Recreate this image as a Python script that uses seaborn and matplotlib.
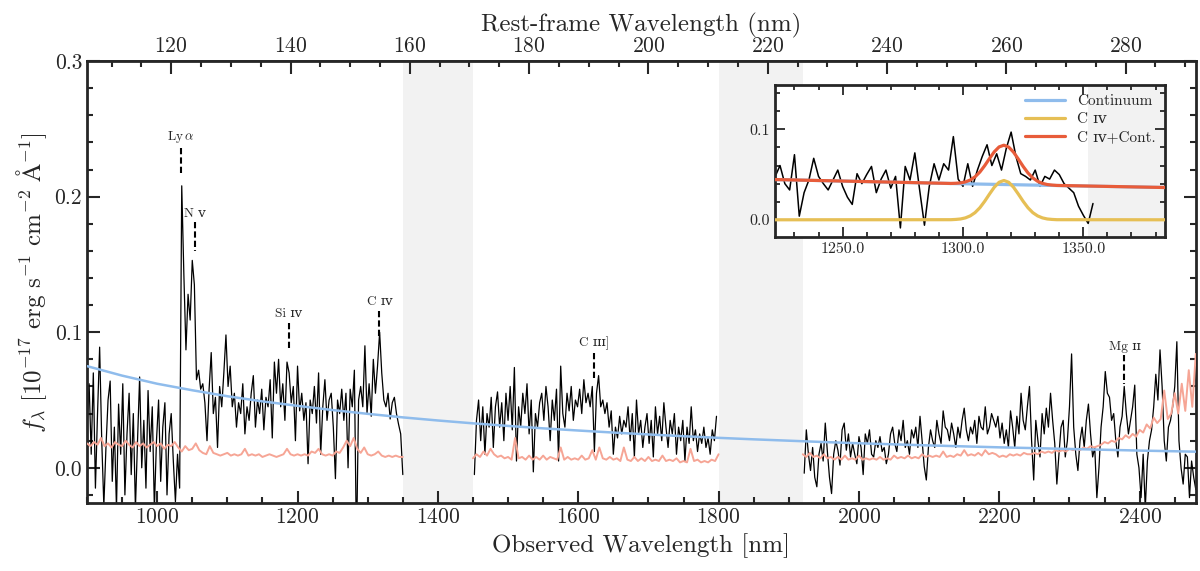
import numpy as np
import matplotlib
matplotlib.use('Agg')
import matplotlib.pyplot as plt
import seaborn as sns
from matplotlib.ticker import MultipleLocator, FormatStrFormatter, FixedLocator

# redshift used for the rest-frame axis
z = 7.5

# Spectrum, segment 1 (900-1350 nm, 3 nm steps)
flux1 = [0.030, 0.062, 0.010, 0.070, -0.015, 0.040, 0.089, 0.020, -0.028, 0.015,
         0.050, 0.064, -0.010, 0.030, -0.030, 0.047, 0.010, 0.062, -0.020, 0.025,
         0.055, -0.005, 0.040, -0.030, 0.020, 0.067, 0.000, 0.035, -0.015, 0.057,
         0.012, 0.045, -0.030, 0.020, 0.050, -0.010, 0.030, 0.048, -0.020, 0.025,
         0.040, 0.005, -0.025, 0.010,
         -0.015, 0.208, 0.143, 0.087, 0.128, 0.109, 0.153, 0.135, 0.065, 0.072, 0.058,
         0.062, 0.048, 0.020, 0.058, 0.085, 0.040, 0.052, 0.015, 0.060, 0.045,
         0.070, 0.098, 0.060, 0.075, 0.045, 0.055, 0.030, 0.048, 0.040, 0.062,
         0.025, 0.045, 0.035, 0.055, 0.068, 0.030, 0.050, 0.040, 0.058, 0.028,
         0.052, 0.045, 0.065, 0.022, 0.078, 0.055, 0.080, 0.045, 0.062, 0.035,
         0.078, 0.070, 0.048, 0.060, 0.020, 0.075, 0.042, 0.055, 0.035, 0.048,
         0.003, 0.050, 0.040, 0.060, 0.033, 0.070, 0.010, 0.045, 0.065, 0.035,
         0.050, 0.055, 0.030, -0.008, 0.050, 0.040, 0.058, 0.035, 0.055, 0.000,
         0.058, 0.045, 0.072, -0.060, 0.050, 0.060, 0.045, 0.090, 0.040, 0.062,
         0.038, 0.080, 0.055, 0.075, 0.100, 0.070, 0.050, 0.045, 0.055, 0.036,
         0.048, 0.052, 0.040, 0.032, 0.025, -0.005]
start1 = 900

# segment 2 (1452-1797 nm)
flux2 = [-0.005, 0.035, 0.050, 0.020, 0.045, 0.010, 0.040, 0.030, 0.052, 0.015,
         0.045, 0.056, 0.030, 0.048, 0.020, 0.055, 0.035, 0.060, 0.028, 0.074,
         0.005, 0.045, 0.030, 0.055, 0.040, 0.062, 0.025, 0.050, -0.003, 0.040,
         0.030, 0.048, 0.055, 0.035, 0.060, 0.045, 0.020, 0.050, 0.035, 0.058,
         0.005, 0.075, 0.040, 0.030, 0.055, 0.042, 0.060, 0.035, 0.050, 0.045,
         0.058, 0.040, 0.065, 0.048, 0.055, 0.045, 0.060, 0.012, 0.055, 0.068,
         0.045, 0.050, 0.040, 0.048, 0.030, 0.042, 0.010, 0.030, 0.022, 0.038,
         0.025, 0.035, 0.030, 0.045, 0.020, 0.040, 0.008, 0.050, 0.025, 0.035,
         0.015, 0.030, 0.040, 0.018, 0.035, 0.008, 0.045, 0.025, 0.038, 0.020,
         0.048, 0.030, 0.015, 0.035, 0.025, 0.040, 0.010, 0.030, 0.020, 0.035,
         0.005, 0.030, 0.018, 0.045, 0.020, 0.028, 0.012, 0.025, 0.018, 0.030,
         0.015, 0.022, 0.010, 0.028, 0.020, 0.038]
start2 = 1452

# segment 3 (1922-2480 nm)
flux3 = [-0.004, 0.028, 0.010, -0.002, 0.015, -0.007, -0.014, 0.010, 0.018, 0.005,
         0.033, 0.012, -0.007, -0.019, 0.010, 0.020, 0.013, 0.002, 0.028, 0.033,
         0.013, 0.025, 0.008, 0.018, 0.010, 0.003, 0.023, 0.015, -0.005, 0.025,
         0.018, 0.028, 0.010, 0.008, 0.020, 0.015, 0.023, 0.012, 0.015, 0.003,
         0.010, 0.025, 0.030, 0.018, 0.012, 0.028, 0.020, 0.035, 0.015, 0.020,
         0.010, 0.028, 0.022, 0.030, 0.015, 0.038, 0.020, 0.001, -0.009, 0.015,
         0.028, 0.020, 0.015, 0.035, 0.025, 0.018, 0.042, 0.030, 0.028, 0.020,
         0.033, 0.025, 0.015, 0.030, 0.022, 0.035, 0.044, 0.028, 0.020, 0.030,
         0.025, 0.035, 0.018, 0.038, 0.030, 0.028, 0.045, 0.025, 0.030, 0.040,
         0.035,
         0.030, 0.038, 0.022, 0.033, 0.018, 0.028, 0.015, 0.042, 0.030, 0.015,
         0.038, 0.025, 0.055, 0.035, 0.028, 0.045, 0.060, 0.020, -0.009, 0.035,
         0.020, 0.008, 0.040, 0.025, 0.044, 0.030, 0.055, 0.035, 0.018, -0.012,
         0.010, 0.030, 0.035, 0.008, 0.020, 0.045, 0.084, 0.030, 0.010, -0.002,
         0.020, 0.030, 0.015, 0.035, 0.047, 0.025, 0.008, 0.015, -0.022, 0.000,
         0.030, 0.045, 0.071, 0.055, 0.052, 0.035, 0.040, 0.020, 0.008, 0.030,
         0.038, 0.060, 0.040, 0.025, 0.035, 0.045, 0.061, 0.010, 0.000, -0.022,
         0.010, -0.030, 0.005, 0.020, 0.028, 0.045, 0.069, 0.050, 0.087, 0.060,
         0.020, 0.005, 0.030, 0.035, 0.045, 0.060, 0.093, 0.020, 0.000, -0.012,
         0.010, 0.008, -0.022, 0.005, -0.007, -0.016]
start3 = 1922

# error spectrum (5 nm steps)
err1 = [0.018, 0.016, 0.019, 0.017, 0.022, 0.016, 0.018, 0.015, 0.019, 0.017,
        0.016, 0.020, 0.017, 0.015, 0.019, 0.016, 0.018, 0.015, 0.017, 0.019,
        0.016, 0.018, 0.014, 0.017, 0.016, 0.019, 0.015, 0.012, 0.016, 0.013,
        0.014, 0.018, 0.013, 0.011, 0.010, 0.016, 0.011, 0.010, 0.009, 0.010,
        0.011, 0.009, 0.010, 0.009, 0.010, 0.014, 0.009, 0.010, 0.009, 0.010,
        0.008, 0.009, 0.010, 0.009, 0.008, 0.009, 0.010, 0.014, 0.010, 0.009,
        0.010, 0.009, 0.010, 0.009, 0.012, 0.011, 0.014, 0.010, 0.009, 0.010,
        0.009, 0.012, 0.011, 0.015, 0.020, 0.016, 0.022, 0.014, 0.011, 0.015,
        0.010, 0.009, 0.010, 0.012, 0.009, 0.008, 0.009, 0.008, 0.009, 0.008,
        0.008]
err_start1 = 900
err2 = [0.007, 0.010, 0.008, 0.012, 0.009, 0.014, 0.010, 0.008, 0.009, 0.007,
        0.008, 0.006, 0.022, 0.007, 0.008, 0.006, 0.009, 0.006, 0.008, 0.006,
        0.009, 0.006, 0.008, 0.007, 0.006, 0.015, 0.006, 0.008, 0.006, 0.007,
        0.006, 0.009, 0.006, 0.007, 0.013, 0.006, 0.015, 0.007, 0.006, 0.008,
        0.006, 0.007, 0.005, 0.015, 0.006, 0.005, 0.008, 0.005, 0.007, 0.005,
        0.008, 0.005, 0.006, 0.005, 0.009, 0.005, 0.006, 0.005, 0.007, 0.004,
        0.005, 0.004, 0.014, 0.005, 0.006, 0.004, 0.005, 0.004, 0.006, 0.005,
        0.010]
err_start2 = 1450
err3 = [0.010, 0.008, 0.011, 0.008, 0.009, 0.007, 0.010, 0.007, 0.008, 0.006,
        0.008, 0.006, 0.009, 0.006, 0.007, 0.006, 0.009, 0.006, 0.007, 0.006,
        0.007, 0.006, 0.008, 0.006, 0.007, 0.006, 0.009, 0.007, 0.008, 0.007,
        0.009, 0.007, 0.008, 0.007, 0.010, 0.008, 0.009, 0.008, 0.009, 0.008,
        0.012, 0.008, 0.009, 0.008, 0.010, 0.009, 0.013, 0.009, 0.010, 0.009,
        0.011, 0.009, 0.013, 0.010, 0.011, 0.010, 0.008, 0.009, 0.008, 0.010,
        0.009, 0.010, 0.009, 0.011, 0.010, 0.010, 0.011, 0.010, 0.012, 0.011,
        0.012, 0.011, 0.013, 0.012, 0.013, 0.012, 0.014, 0.013, 0.014, 0.013,
        0.015, 0.014, 0.016, 0.015, 0.016, 0.017, 0.019, 0.018, 0.020, 0.019,
        0.022, 0.021, 0.024, 0.022, 0.025, 0.023, 0.028, 0.026, 0.032, 0.029,
        0.037, 0.033, 0.036, 0.057, 0.036, 0.040, 0.055, 0.040, 0.062, 0.042,
        0.072, 0.045, 0.084]
err_start3 = 1920

# continuum model
cont_wave = [900, 950, 1000, 1050, 1100, 1150, 1200, 1250, 1300, 1350, 1400,
             1450, 1500, 1550, 1600, 1650, 1700, 1750, 1800, 1850, 1900, 1950,
             2000, 2050, 2100, 2150, 2200, 2250, 2300, 2350, 2400, 2450, 2500]
cont_flux = [0.0750, 0.0680, 0.0620, 0.0572, 0.0528, 0.0490, 0.0457, 0.0426,
             0.0398, 0.0372, 0.0349, 0.0328, 0.0309, 0.0291, 0.0275, 0.0260,
             0.0246, 0.0233, 0.0221, 0.0210, 0.0200, 0.0190, 0.0181, 0.0173,
             0.0165, 0.0158, 0.0151, 0.0145, 0.0139, 0.0133, 0.0127, 0.0122,
             0.0117]

# inset: zoom on C IV (2 nm steps)
inset_flux = [0.048, 0.060, 0.040, 0.033, 0.072, 0.004, 0.030, 0.044, 0.068, 0.048,
              0.040, 0.033, 0.044, 0.055, 0.037, 0.025, 0.017, 0.051, 0.040, 0.050,
              0.059, 0.030, 0.045, 0.055, 0.035, 0.048, -0.009, 0.059, 0.044, 0.074,
              0.033, -0.006, 0.037, 0.062, 0.044, 0.062, 0.055, 0.092, 0.045, 0.037,
              0.062, 0.037, 0.055, 0.070, 0.083, 0.060, 0.073, 0.055, 0.079, 0.097,
              0.070, 0.051, 0.048, 0.044, 0.055, 0.037, 0.048, 0.045, 0.055, 0.050,
              0.040, 0.035, 0.030, 0.015, 0.005, -0.004, 0.018]
inset_start = 1222

civ_wave = [1222, 1295, 1297, 1299, 1301, 1303, 1305, 1307, 1309, 1311, 1313,
            1315, 1317, 1319, 1321, 1323, 1325, 1327, 1329, 1331, 1333, 1335,
            1337, 1339, 1384]
civ_line = [0.0, 0.0001, 0.0004, 0.0009, 0.0021, 0.0043, 0.0079, 0.0133, 0.0204,
            0.0284, 0.0360, 0.0415, 0.0435, 0.0415, 0.0360, 0.0284, 0.0204, 0.0133,
            0.0079, 0.0043, 0.0021, 0.0009, 0.0004, 0.0001, 0.0]
civ_cont = [0.0445, 0.0401, 0.0400, 0.0399, 0.0398, 0.0397, 0.0396, 0.0395, 0.0394,
            0.0393, 0.0392, 0.0391, 0.0390, 0.0389, 0.0388, 0.0387, 0.0386, 0.0385,
            0.0384, 0.0383, 0.0382, 0.0381, 0.0380, 0.0379, 0.0357]

# emission line markers
line_labels = [r'Ly$\,\alpha$', 'N ᴠ', 'Si ɪᴠ', 'C ɪᴠ', 'C ɪɪɪ]', 'Mg ɪɪ']
line_rest = [121.6, 124.0, 139.7, 154.9, 190.9, 279.8]
line_top = [0.236, 0.181, 0.107, 0.116, 0.085, 0.083]

# rest-frame tick labels
rest_ticks = [120, 140, 160, 180, 200, 220, 240, 260, 280]

# masked regions
gaps = [(1350, 1450), (1800, 1920)]

sns.set_theme(style='ticks')
plt.rcParams['font.family'] = ['cmr10', 'DejaVu Serif', 'DejaVu Sans']
plt.rcParams['mathtext.fontset'] = 'cm'
plt.rcParams['axes.formatter.use_mathtext'] = True
plt.rcParams['axes.unicode_minus'] = False

c_spec = 'black'
c_err = '#f6a595'
c_cont = '#8fbcec'
c_civ = '#e6bf55'
c_sum = '#e85c3a'

fig = plt.figure(figsize=(12, 5.71), dpi=100)
ax = fig.add_axes([0.0725, 0.119, 0.924, 0.774])

for lo, hi in gaps:
    ax.axvspan(lo, hi, color='#f2f2f2', lw=0, zorder=0)

segments = [(start1, flux1), (start2, flux2), (start3, flux3)]
for s, f in segments:
    w = s + 3 * np.arange(len(f))
    sns.lineplot(x=w, y=f, ax=ax, color=c_spec, lw=0.9, estimator=None,
                 sort=False, zorder=2)

errs = [(err_start1, err1), (err_start2, err2), (err_start3, err3)]
for s, e in errs:
    w = s + 5 * np.arange(len(e))
    sns.lineplot(x=w, y=e, ax=ax, color=c_err, lw=1.4, estimator=None,
                 sort=False, zorder=3)

sns.lineplot(x=cont_wave, y=cont_flux, ax=ax, color=c_cont, lw=1.8,
             estimator=None, sort=False, zorder=4)

for lab, rw, top in zip(line_labels, line_rest, line_top):
    w = rw * (1 + z)
    ax.plot([w, w], [top, top - 0.021], color='black', lw=1.5, ls=(0, (3, 1.5)),
            zorder=5)
    ax.text(w, top + 0.002, lab, ha='center', va='bottom', fontsize=9.5,
            zorder=5)

ax.set_xlim(900, 2480)
ax.set_ylim(-0.026, 0.3)
ax.xaxis.set_major_locator(MultipleLocator(200))
ax.xaxis.set_minor_locator(MultipleLocator(50))
ax.yaxis.set_major_locator(MultipleLocator(0.1))
ax.yaxis.set_minor_locator(MultipleLocator(0.02))
ax.yaxis.set_major_formatter(FormatStrFormatter('%.1f'))
ax.tick_params(which='both', direction='in', top=False, right=True,
               labelsize=15.5, width=1.5)
ax.tick_params(which='major', length=9)
ax.tick_params(which='minor', length=4.5)
for sp in ax.spines.values():
    sp.set_linewidth(2)
ax.set_xlabel('Observed Wavelength [nm]', fontsize=18)
ax.set_ylabel(r'$f_\lambda\ [10^{-17}\ \mathrm{erg\ s^{-1}\ cm^{-2}\ \AA^{-1}}]$',
              fontsize=18)

sec = ax.secondary_xaxis('top', functions=(lambda x: x / (1 + z),
                                           lambda x: x * (1 + z)))
sec.xaxis.set_major_locator(FixedLocator(rest_ticks))
sec.xaxis.set_minor_locator(MultipleLocator(5))
sec.tick_params(which='both', direction='in', labelsize=15.5, width=1.5)
sec.tick_params(which='major', length=9)
sec.tick_params(which='minor', length=4.5)
sec.set_xlabel('Rest-frame Wavelength (nm)', fontsize=18)

# inset
axi = fig.add_axes([0.646, 0.585, 0.325, 0.266])
axi.axvspan(1352, 1390, color='#f2f2f2', lw=0, zorder=0)
wi = inset_start + 2 * np.arange(len(inset_flux))
sns.lineplot(x=wi, y=inset_flux, ax=axi, color=c_spec, lw=1.1, estimator=None,
             sort=False, zorder=2)
sns.lineplot(x=civ_wave, y=civ_cont, ax=axi, color=c_cont, lw=2.3,
             estimator=None, sort=False, zorder=3, label='Continuum')
sns.lineplot(x=civ_wave, y=civ_line, ax=axi, color=c_civ, lw=2.3,
             estimator=None, sort=False, zorder=3, label='C ɪᴠ')
civ_sum = np.array(civ_cont) + np.array(civ_line)
sns.lineplot(x=civ_wave, y=civ_sum, ax=axi, color=c_sum, lw=2.3,
             estimator=None, sort=False, zorder=4, label='C ɪᴠ+Cont.')
axi.set_xlim(1222, 1384)
axi.set_ylim(-0.019, 0.149)
axi.xaxis.set_major_locator(MultipleLocator(50))
axi.xaxis.set_minor_locator(MultipleLocator(10))
axi.yaxis.set_major_locator(MultipleLocator(0.1))
axi.yaxis.set_minor_locator(MultipleLocator(0.02))
axi.xaxis.set_major_formatter(FormatStrFormatter('%.1f'))
axi.yaxis.set_major_formatter(FormatStrFormatter('%.1f'))
axi.tick_params(which='both', direction='in', top=True, right=True,
                labelsize=11.5, width=1.3)
axi.tick_params(which='major', length=7)
axi.tick_params(which='minor', length=3.5)
for sp in axi.spines.values():
    sp.set_linewidth(2)
axi.set_xlabel('')
axi.set_ylabel('')
axi.legend(loc='upper right', frameon=False, fontsize=11, handlelength=2.6,
           borderaxespad=0.2, labelspacing=0.3)

fig.savefig('out.png', dpi=100)
